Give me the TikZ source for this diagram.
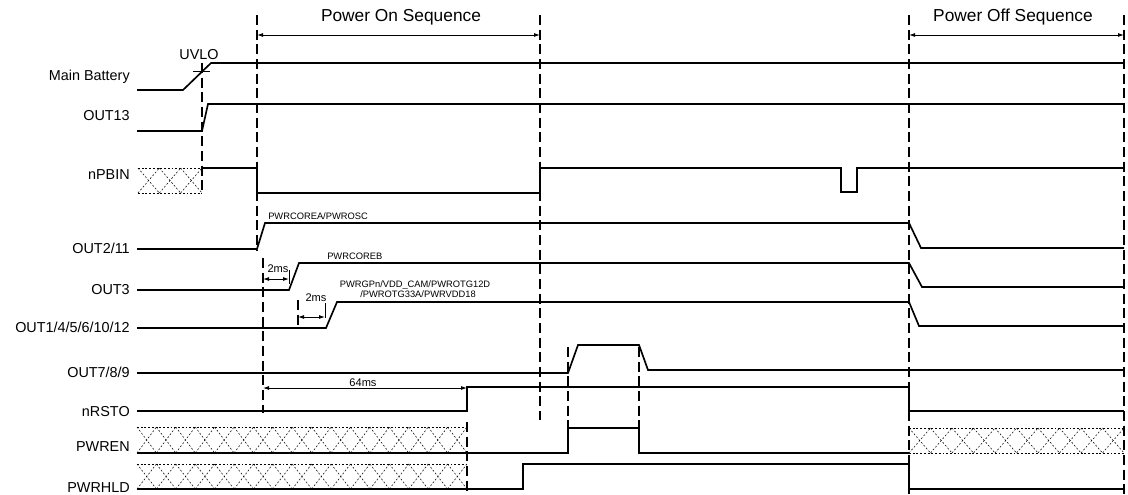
\documentclass[tikz,border=0pt]{standalone}
\usepackage{fontspec}
\setmainfont{Liberation Sans}
\usetikzlibrary{arrows.meta}

\tikzset{
  signal/.style={line width=1.25pt},
  guide/.style={line width=0.85pt, dash pattern=on 7.5pt off 3.5pt},
  hatch/.style={line width=0.4pt, dash pattern=on 1.4pt off 1.4pt},
  dimarrow/.style={line width=0.7pt, {Latex[length=4.5pt,width=3pt]}-{Latex[length=4.5pt,width=3pt]}},
  siglabel/.style={anchor=base east, inner sep=0pt, font=\fontsize{10.8}{12}\selectfont},
  seqtitle/.style={anchor=base, inner sep=0pt, font=\fontsize{13}{15}\selectfont},
  railtext/.style={anchor=base west, inner sep=0pt, font=\fontsize{7}{8}\selectfont},
  gaptext/.style={anchor=base, inner sep=0pt, font=\fontsize{8.3}{9}\selectfont},
}

% crossed box for an undefined level
\newcommand{\hatchbox}[5]{%
  \draw[hatch] (#1,#3) -- (#2,#3) (#1,#4) -- (#2,#4);
  \pgfmathsetmacro\cellw{(#2-#1)/#5}
  \foreach \k in {1,...,#5} {
    \draw[hatch] ({#1+(\k-1)*\cellw},#3) -- ({#1+\k*\cellw},#4);
    \draw[hatch] ({#1+(\k-1)*\cellw},#4) -- ({#1+\k*\cellw},#3);
  }
}

\begin{document}
\begin{tikzpicture}[x=0.75pt, y=-0.75pt]
\useasboundingbox (0,0) rectangle (1128,494);

% signal names
\node[siglabel] (bat) at (130,80) {Main Battery};
\node[siglabel] (out13) at (130,120) {OUT13};
\node[siglabel] (pbin) at (130,179) {nPBIN};
\node[siglabel] (out211) at (130,253) {OUT2/11};
\node[siglabel] (out3) at (130,294) {OUT3};
\node[siglabel] (out1) at (130,332) {OUT1/4/5/6/10/12};
\node[siglabel] (out7) at (130,377) {OUT7/8/9};
\node[siglabel] (rsto) at (130,416) {nRSTO};
\node[siglabel] (pwren) at (130,451) {PWREN};
\node[siglabel] (pwrhld) at (130,492) {PWRHLD};

% sequence marks
\node[seqtitle] (ontitle) at (401,21) {Power On Sequence};
\node[seqtitle] (offtitle) at (1013,21) {Power Off Sequence};
\draw[dimarrow] (257,35) -- (540,35);
\draw[dimarrow] (909,35) -- (1124,35);
\draw[guide] (257,15) -- (257,250);
\draw[guide] (540,15) -- (540,420);
\draw[guide] (909,15) -- (909,494);
\draw[guide] (1124,15) -- (1124,494);

% battery and OUT13
\node[gaptext, font=\fontsize{10.8}{12}\selectfont] (uvlo) at (199,59) {UVLO};
\draw[signal] (137,90) -- (183,90) -- (211,63) -- (1124,63);
\draw[line width=0.7pt] (193,71) -- (210,71);
\draw[guide] (202,63) -- (202,193);
\draw[signal] (137,131) -- (202,131) -- (208,104) -- (1124,104);

% nPBIN
\hatchbox{138}{202}{168}{193}{3}
\draw[signal] (202,168) -- (257,168) -- (257,193) -- (540,193) -- (540,168)
  -- (841,168) -- (841,192) -- (857,192) -- (857,168) -- (1124,168);

% regulators
\node[railtext] (coreA) at (268,219) {PWRCOREA/PWROSC};
\node[railtext] (coreB) at (327,259) {PWRCOREB};
\node[railtext, anchor=base] (gpn) at (415,287) {PWRGPn/VDD\_CAM/PWROTG12D};
\node[railtext, anchor=base] (otg) at (418,297) {/PWROTG33A/PWRVDD18};
\draw[signal] (137,249) -- (257,249) -- (265,223) -- (909,223) -- (921,248) -- (1124,248);
\draw[signal] (137,290) -- (289,290) -- (299,263) -- (909,263) -- (922,287) -- (1124,287);
\draw[signal] (137,328) -- (326,328) -- (337,302) -- (909,302) -- (919,326) -- (1124,326);

% delays
\draw[guide] (263,258) -- (263,413);
\draw[guide] (298,300) -- (298,328);
\draw[line width=0.7pt] (289,270) -- (289,284);
\draw[line width=0.7pt] (325,303) -- (325,318);
\draw[dimarrow] (263,279) -- (289,279);
\draw[dimarrow] (298,317) -- (325,317);
\node[gaptext] (twoA) at (278,272) {2ms};
\node[gaptext] (twoB) at (316,301) {2ms};
\draw[dimarrow] (263,388) -- (467,388);
\node[gaptext] (sixtyfour) at (363,386) {64ms};

% OUT7/8/9 and reset
\draw[guide] (568,347) -- (568,453);
\draw[guide] (639,347) -- (639,453);
\draw[signal] (137,373) -- (568,373) -- (578,345) -- (639,345) -- (648,370) -- (1124,370);
\draw[signal] (137,411) -- (467,411) -- (467,387) -- (909,387) -- (909,411) -- (1124,411);

% PWREN and PWRHLD
\draw[guide] (467,422) -- (467,494);
\hatchbox{137}{467}{427}{453}{17}
\hatchbox{909}{1124}{428}{453}{10}
\draw[signal] (137,453) -- (568,453) -- (568,428) -- (639,428) -- (639,453) -- (909,453);
\hatchbox{137}{467}{464}{489}{17}
\draw[signal] (137,489) -- (523,489) -- (523,464) -- (909,464) -- (909,489) -- (1124,489);
\end{tikzpicture}
\end{document}
